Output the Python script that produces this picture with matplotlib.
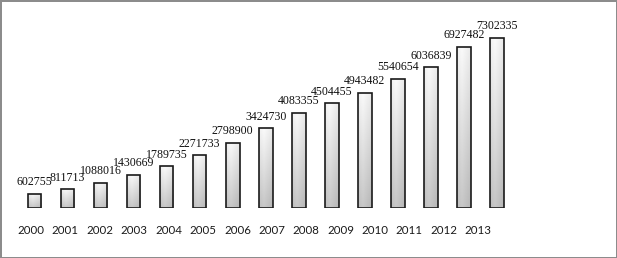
import numpy as np
import matplotlib
matplotlib.use('Agg')
import matplotlib.pyplot as plt

# data (15 bars, 14 year labels under them)
values = [602755, 811713, 1088016, 1430669, 1789735, 2271733, 2798900,
          3424730, 4083355, 4504455, 4943482, 5540654, 6036839, 6927482, 7302335]
years = ['2000', '2001', '2002', '2003', '2004', '2005', '2006',
         '2007', '2008', '2009', '2010', '2011', '2012', '2013']

W, H = 617, 258
fig = plt.figure(figsize=(W / 100, H / 100), dpi=100)
fig.patch.set_facecolor('white')
fig.patch.set_edgecolor('#8c8c8c')
fig.patch.set_linewidth(2.0)

ax = fig.add_axes([0, 50 / H, 1, 198 / H])
ax.set_facecolor('none')

x = np.arange(len(values))
bw = 0.41
bars = ax.bar(x, values, width=bw, facecolor='none', edgecolor='#1a1a1a',
              linewidth=1.2, zorder=3)

# gradient fill clipped to each bar
gy, gx = np.mgrid[0:1:60j, 0:1:20j]
grad = 0.98 - 0.20 * gy - 0.10 * np.abs(gx - 0.35)
for b, v in zip(bars, values):
    im = ax.imshow(grad, cmap='gray', vmin=0, vmax=1, aspect='auto',
                   extent=(b.get_x(), b.get_x() + bw, 0, v), zorder=2,
                   interpolation='bilinear')
    im.set_clip_path(b)
    ax.annotate(str(v), (b.get_x() + bw / 2, v), xytext=(0, 4),
                textcoords='offset points', ha='center', va='bottom',
                family='Liberation Serif', fontsize=8.6, color='#111111')

ax.set_xlim(-1.044, 17.63)
ax.set_ylim(0, 8.5e6)
# the year labels in the source sit on their own, slightly wider spacing
lab_pos = -0.106 + 1.041 * np.arange(len(years))
ax.set_xticks(lab_pos)
ax.set_xticklabels(years, family='Lato', fontsize=8.3, color='#1a1a1a')
ax.tick_params(axis='x', length=0, pad=12)
ax.set_yticks([])
for s in ax.spines.values():
    s.set_visible(False)

fig.savefig('out.png', dpi=100, facecolor=fig.get_facecolor(),
            edgecolor=fig.get_edgecolor())
